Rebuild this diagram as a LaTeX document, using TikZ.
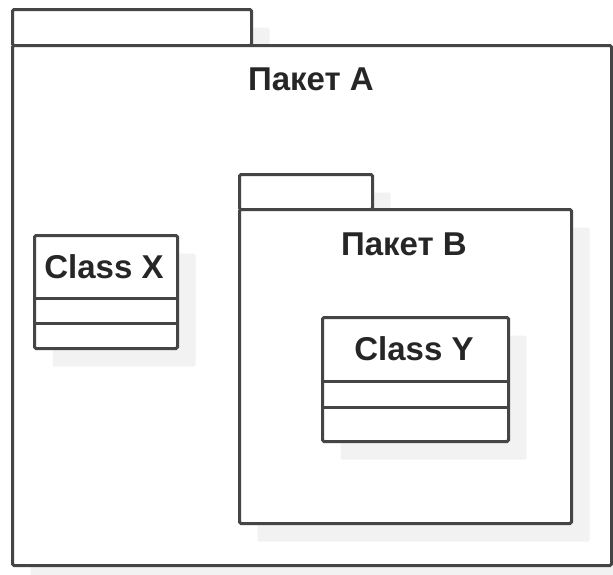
\documentclass[tikz,border=0pt]{standalone}
\usepackage{fontspec}
\setmainfont{Liberation Sans}
\usetikzlibrary{shadows,calc}
\definecolor{edge}{HTML}{454545}
\definecolor{shade}{HTML}{F2F2F2}
\definecolor{ink}{HTML}{262626}
\tikzset{
  umlbox/.style={draw=edge, line width=3pt, fill=white, rounded corners=1.5pt,
    inner sep=0pt, anchor=north west,
    drop shadow={shadow xshift=18pt, shadow yshift=-18pt, fill=shade, opacity=1}},
  divider/.style={draw=edge, line width=3pt},
  title/.style={font=\bfseries\fontsize{33}{38}\selectfont, text=ink, inner sep=0pt}
}
\begin{document}
\begin{tikzpicture}[x=1pt, y=-1pt]
  \useasboundingbox (0,0) rectangle (613,574);

  % Package A
  \node[umlbox, minimum width=239pt, minimum height=36pt] (Atab) at (11,8) {};
  \node[umlbox, minimum width=599pt, minimum height=520pt] (A) at (11,44) {};
  \node[title] (Aname) at (311,79) {Пакет A};

  % Class X
  \node[umlbox, minimum width=143pt, minimum height=113pt] (X) at (33,234) {};
  \node[title] (Xname) at (104,267) {Class X};
  \draw[divider] ($(X.north west)+(0,64)$) -- ($(X.north east)+(0,64)$);
  \draw[divider] ($(X.north west)+(0,89)$) -- ($(X.north east)+(0,89)$);

  % Package B
  \node[umlbox, minimum width=133pt, minimum height=35pt] (Btab) at (238,173) {};
  \node[umlbox, minimum width=332pt, minimum height=314pt] (B) at (238,208) {};
  \node[title] (Bname) at (404,244) {Пакет B};

  % Class Y
  \node[umlbox, minimum width=186pt, minimum height=124pt] (Y) at (321,316) {};
  \node[title] (Yname) at (414,349) {Class Y};
  \draw[divider] ($(Y.north west)+(0,65)$) -- ($(Y.north east)+(0,65)$);
  \draw[divider] ($(Y.north west)+(0,91)$) -- ($(Y.north east)+(0,91)$);
\end{tikzpicture}
\end{document}
